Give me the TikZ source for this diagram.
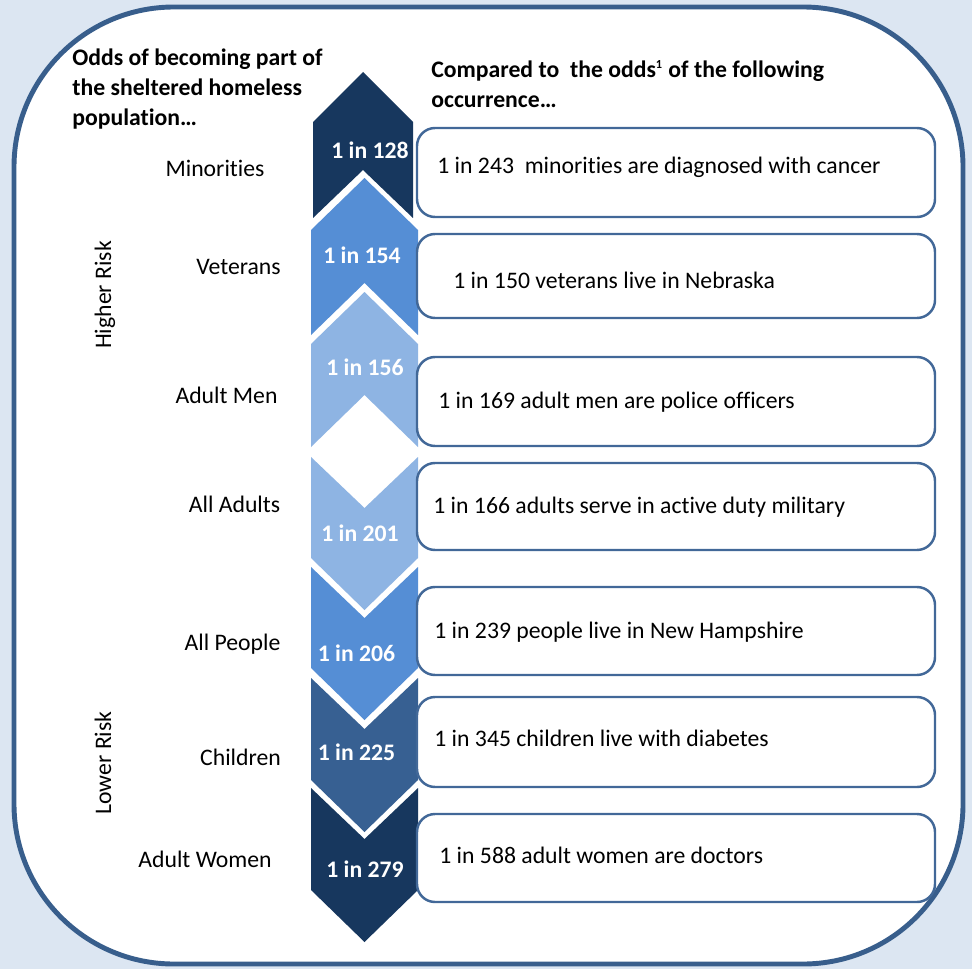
\documentclass[tikz,border=0pt]{standalone}
\usepackage{fontspec}
\setmainfont{Carlito}[Ligatures=NoCommon]

\definecolor{bgcol}{RGB}{220,230,242}
\definecolor{framecol}{RGB}{56,94,140}
\definecolor{boxcol}{RGB}{66,104,152}
\definecolor{navy}{RGB}{23,55,94}
\definecolor{midblue}{RGB}{85,142,213}
\definecolor{lightblue}{RGB}{142,180,227}
\definecolor{steel}{RGB}{55,96,146}

\begin{document}
\begin{tikzpicture}[x=0.02cm,y=-0.02cm,
  every node/.style={inner sep=0pt,font=\fontsize{13.5}{16.8}\selectfont},
  odds/.style={anchor=base,text=white,font=\fontsize{13.5}{16.8}\selectfont\bfseries},
  group/.style={anchor=base},
  risk/.style={anchor=base,rotate=90},
  fact/.style={anchor=base west},
  head/.style={anchor=north west,align=left,font=\fontsize{13.5}{16.8}\selectfont\bfseries},
  factbox/.style={draw=boxcol,line width=1.4pt,rounded corners=0.36cm,fill=white}]
  \fill[bgcol] (0,0) rectangle (972,969);
  \draw[framecol,line width=2.8pt,fill=white,rounded corners=3.2cm] (14,7) rectangle (963,964);
  % chevrons, going up then down
  \fill[navy] (313,122) -- (363,72) -- (413,122) -- (413,218) -- (363,170) -- (313,218) -- cycle;
  \foreach \t/\b/\c in {178/335/midblue, 292/447/lightblue}
    \fill[\c] (311,\t+52) -- (364.5,\t) -- (418,\t+52) -- (418,\b) -- (364.5,\b-52) -- (311,\b) -- cycle;
  \foreach \t/\b/\c in {457/610/lightblue, 567/720/midblue, 678/832/steel, 788/942/navy}
    \fill[\c] (311,\t) -- (364.5,\t+51) -- (418,\t) -- (418,\b-52) -- (364.5,\b) -- (311,\b-52) -- cycle;
  \node[odds] (o128) at (370,159) {1 in 128};
  \node[odds] (o154) at (362,263) {1 in 154};
  \node[odds] (o156) at (365,375) {1 in 156};
  \node[odds] (o201) at (360,541) {1 in 201};
  \node[odds] (o206) at (356.5,661) {1 in 206};
  \node[odds] (o225) at (356.5,760) {1 in 225};
  \node[odds] (o279) at (365,877) {1 in 279};
  % the boxes on the right
  \foreach \t/\b in {128/217, 234/318, 357/446, 463/550, 587/675, 697/787, 814/902}
    \draw[factbox] (417,\t) rectangle (935,\b);
  \node[fact] (f243) at (437,174) {1 in 243\ \ minorities are diagnosed with cancer};
  \node[fact] (f150) at (453,288) {1 in 150 veterans live in Nebraska};
  \node[fact] (f169) at (438,408) {1 in 169 adult men are police officers};
  \node[fact] (f166) at (433,513) {1 in 166 adults serve in active duty military};
  \node[fact] (f239) at (434,638) {1 in 239 people live in New Hampshire};
  \node[fact] (f345) at (434,746) {1 in 345 children live with diabetes};
  \node[fact] (f588) at (439,863) {1 in 588 adult women are doctors};
  % groups on the left
  \node[group] (minorities) at (215,177) {Minorities};
  \node[group] (veterans) at (238.5,275) {Veterans};
  \node[group] (men) at (226.5,403) {Adult Men};
  \node[group] (adults) at (234.5,512) {All Adults};
  \node[group] (people) at (232.5,650) {All People};
  \node[group] (children) at (240.5,765) {Children};
  \node[group] (women) at (205,867) {Adult Women};
  \node[risk] (higher) at (111,295) {Higher Risk};
  \node[risk] (lower) at (111,763) {Lower Risk};
  % headings
  \node[head] (left) at (72,49) {Odds of becoming part of\\the sheltered homeless\\population…};
  \node[head] (right) at (431,60) {Compared to\ \ the odds\textsuperscript{\scriptsize 1} of the following\\occurrence…};
\end{tikzpicture}
\end{document}
